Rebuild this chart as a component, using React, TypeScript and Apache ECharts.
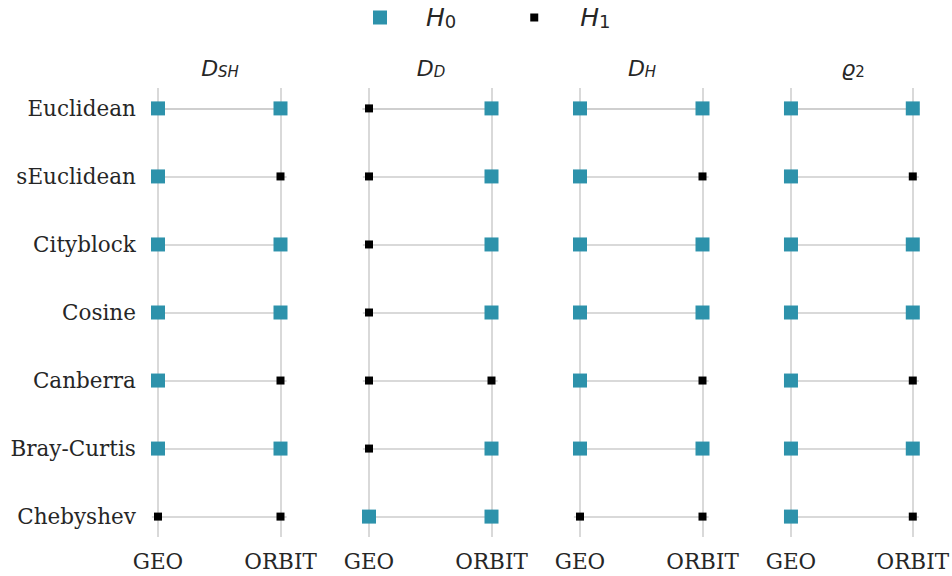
import React, { useEffect, useRef } from "react";
import * as echarts from "echarts";

const metrics = ["Euclidean", "sEuclidean", "Cityblock", "Cosine", "Canberra", "Bray-Curtis", "Chebyshev"];
const sites = ["GEO", "ORBIT"];
const panelTitles = ["{i|D}{s|SH}", "{i|D}{s|D}", "{i|D}{s|H}", "{i|ϱ}{n|2}"];
const hypotheses = ["H0", "H1"];
// 0 = H0 accepted, 1 = H1 per metric row (GEO column, ORBIT column)
const dshGeo = [0, 0, 0, 0, 0, 0, 1];
const dshOrbit = [0, 1, 0, 0, 1, 0, 1];
const ddGeo = [1, 1, 1, 1, 1, 1, 0];
const ddOrbit = [0, 0, 0, 0, 1, 0, 0];
const dhGeo = [0, 0, 0, 0, 0, 0, 1];
const dhOrbit = [0, 1, 0, 0, 1, 0, 1];
const rhoGeo = [0, 0, 0, 0, 0, 0, 0];
const rhoOrbit = [0, 1, 0, 0, 1, 0, 1];

const panels = [
  [dshGeo, dshOrbit],
  [ddGeo, ddOrbit],
  [dhGeo, dhOrbit],
  [rhoGeo, rhoOrbit],
];

const TEAL = "#2d92ab";
const GRID = "#cccccc";
const TXT = "#262626";

export default function App() {
  const ref = useRef<HTMLDivElement>(null);
  useEffect(() => {
    document.body.style.margin = "0";
    document.body.style.overflow = "hidden";
    const chart = echarts.init(ref.current!, null, { renderer: "svg" });
    const grids: any[] = [];
    const xAxes: any[] = [];
    const yAxes: any[] = [];
    const series: any[] = [];
    const titles: any[] = [];
    panels.forEach((cols, p) => {
      const geoX = 158 + 211 * p;
      const left = geoX - 6.125;
      grids.push({ left, width: 134.75, top: 88, height: 449 });
      xAxes.push({
        type: "value",
        gridIndex: p,
        min: -0.05,
        max: 1.05,
        splitLine: { show: false },
        axisTick: { show: false },
        axisLine: { show: true, lineStyle: { color: GRID, width: 1.5 } },
        axisLabel: {
          customValues: [0, 1],
          formatter: (v: number) => sites[Math.round(v)],
          fontFamily: "DejaVu Serif",
          fontSize: 21.5,
          color: TXT,
          margin: 13,
        },
      });
      yAxes.push({
        type: "value",
        gridIndex: p,
        inverse: true,
        min: -0.3,
        max: 6.3,
        splitLine: { show: false },
        axisTick: { show: false },
        axisLine: { show: false },
        axisLabel: {
          show: p === 0,
          customValues: [0, 1, 2, 3, 4, 5, 6],
          formatter: (v: number) => metrics[Math.round(v)],
          fontFamily: "DejaVu Serif",
          fontSize: 21.5,
          color: TXT,
          margin: 16,
        },
      });
      series.push({
        type: "scatter",
        name: "grid" + p,
        xAxisIndex: p,
        yAxisIndex: p,
        data: [],
        z: 1,
        silent: true,
        markLine: {
          z: 1,
          silent: true,
          symbol: "none",
          label: { show: false },
          lineStyle: { color: GRID, width: 1.5, type: "solid" },
          data: [
            ...sites.map((_, i) => ({ xAxis: i })),
            ...metrics.map((_, i) => ({ yAxis: i })),
          ],
        },
      });
      hypotheses.forEach((h, hi) => {
        const data: number[][] = [];
        cols.forEach((col, ci) => {
          col.forEach((v, ri) => {
            if (v === hi) data.push([ci, ri]);
          });
        });
        series.push({
          type: "scatter",
          name: h,
          xAxisIndex: p,
          yAxisIndex: p,
          data,
          z: 10,
          symbol: "rect",
          symbolSize: hi === 0 ? 14 : 8,
          itemStyle: { color: hi === 0 ? TEAL : "#000000", opacity: 1 },
        });
      });
      titles.push({
        text: panelTitles[p],
        left: geoX + 57,
        top: 52,
        textAlign: "center",
        textStyle: {
          fontWeight: "normal",
          rich: {
            i: { fontFamily: "DejaVu Sans", fontStyle: "italic", fontWeight: "normal", fontSize: 22, color: TXT },
            s: { fontFamily: "DejaVu Sans", fontStyle: "italic", fontWeight: "normal", fontSize: 15, color: TXT, verticalAlign: "bottom", lineHeight: 18 },
            n: { fontFamily: "DejaVu Sans", fontWeight: "normal", fontSize: 15, color: TXT, verticalAlign: "bottom", lineHeight: 18 },
          },
        },
      });
    });

    chart.setOption({
      animation: false,
      backgroundColor: "#ffffff",
      title: titles,
      legend: {
        left: 368,
        top: 0,
        itemWidth: 14,
        itemHeight: 14,
        itemGap: 71,
        data: [
          { name: "H0", icon: "path://M0,0h14v14h-14z" },
          { name: "H1", icon: "path://M0,0M14,14M3,3h8v8h-8z" },
        ],
        formatter: (name: string) => "{i|H}{s|" + name.slice(1) + "}",
        textStyle: {
          rich: {
            i: { fontFamily: "DejaVu Sans", fontStyle: "italic", fontSize: 25, color: TXT, padding: [0, 0, 0, 34] },
            s: { fontFamily: "DejaVu Sans", fontSize: 18, color: TXT, verticalAlign: "bottom", lineHeight: 19 },
          },
        },
      },
      grid: grids,
      xAxis: xAxes,
      yAxis: yAxes,
      series,
    });
    return () => chart.dispose();
  }, []);
  return <div ref={ref} style={{ position: "fixed", left: 0, top: 0, width: 952, height: 576 }} />;
}
